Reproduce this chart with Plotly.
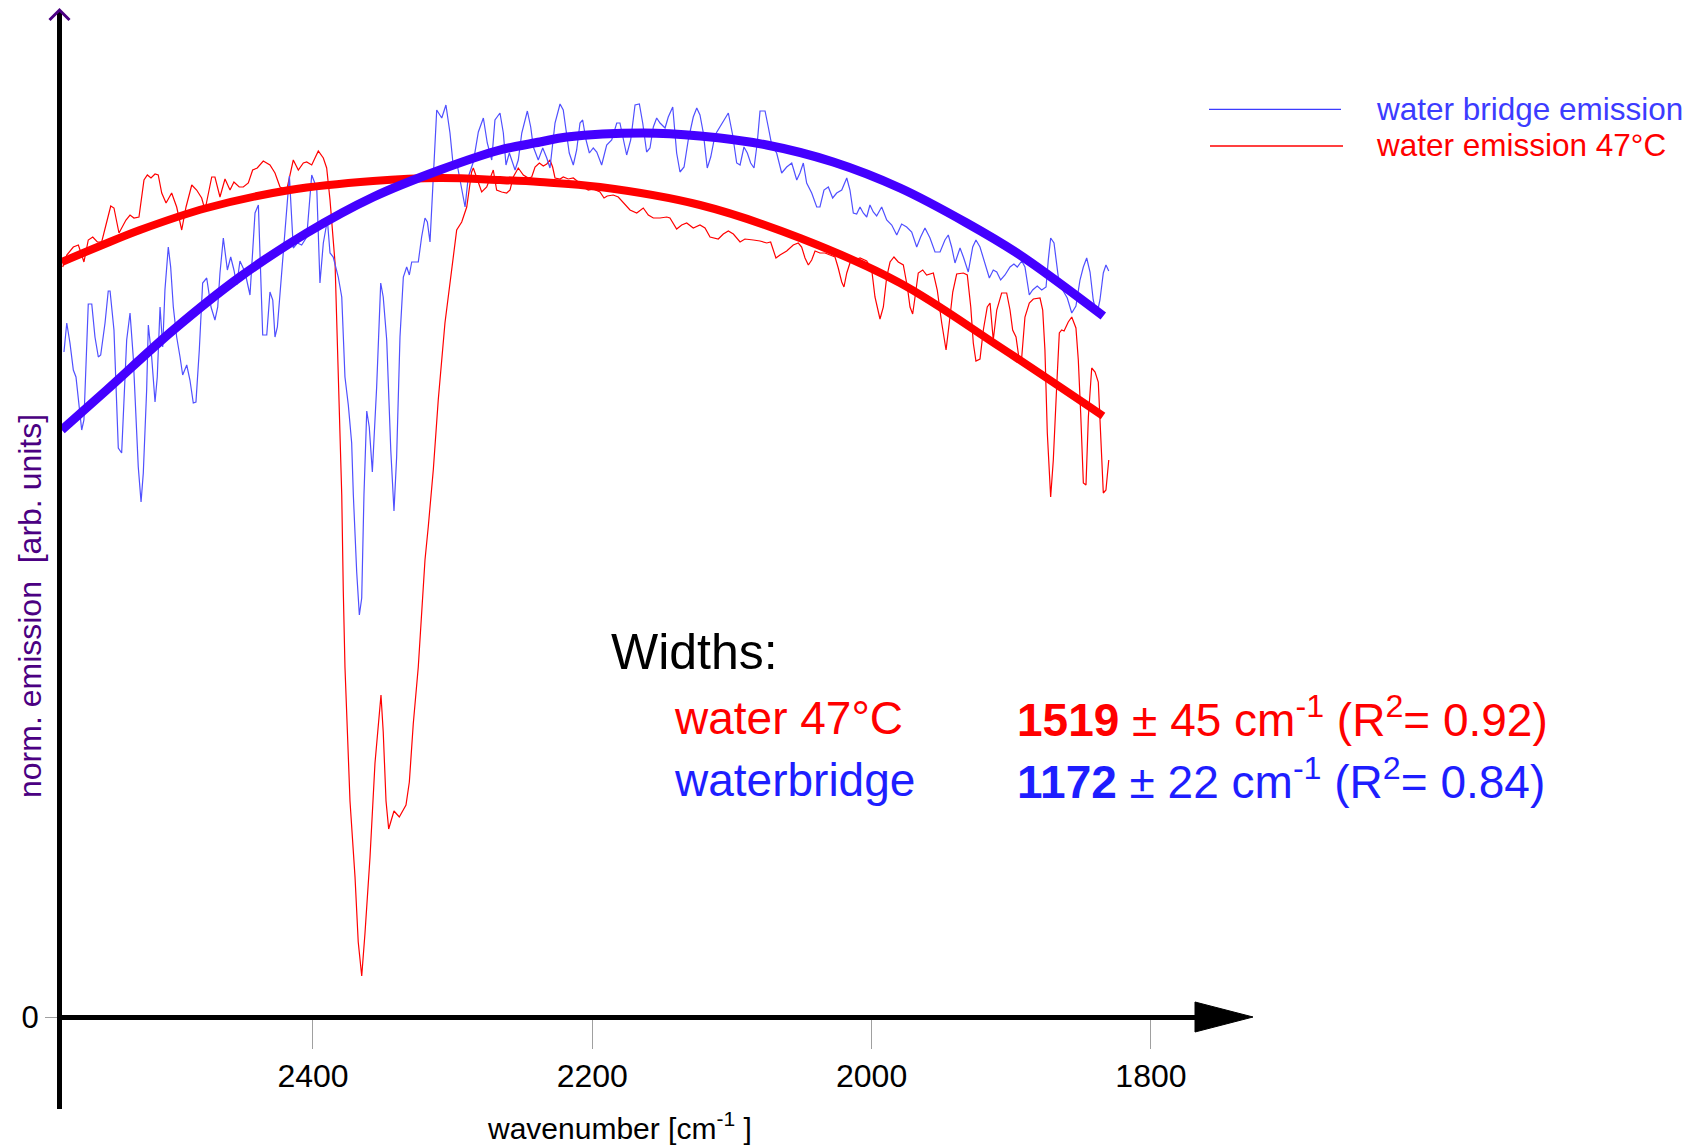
import plotly.graph_objects as go

# ---------------- data (wavenumber in cm^-1, normalised emission in arb. units) ----------------
red_x = [2579.2, 2576.3, 2571.6, 2568.0, 2565.6, 2564.0, 2560.9, 2557.7, 2554.4, 2551.3,
         2547.7, 2544.8, 2542.5, 2538.9, 2533.9, 2531.0, 2528.2, 2524.6, 2521.0, 2518.6,
         2516.0, 2513.1, 2510.8, 2508.3, 2505.2, 2501.2, 2497.6, 2494.0, 2490.9, 2486.8,
         2483.3, 2479.7, 2477.3, 2472.5, 2470.2, 2466.6, 2463.0, 2459.4, 2456.6, 2452.8,
         2449.9, 2446.3, 2443.2, 2439.9, 2435.6, 2430.8, 2427.2, 2423.6, 2418.8, 2414.1,
         2410.5, 2406.9, 2404.5, 2400.9, 2396.2, 2392.6, 2390.2, 2387.8, 2384.2, 2381.2,
         2379.4, 2378.3, 2377.1, 2373.5, 2369.9, 2367.6, 2365.1, 2362.8, 2359.2, 2355.6,
         2353.2, 2351.3, 2349.7, 2347.7, 2345.8, 2342.0, 2338.2, 2333.4, 2331.0, 2328.2,
         2324.6, 2322.2, 2319.8, 2317.4, 2313.8, 2310.3, 2305.5, 2297.1, 2293.5, 2289.9,
         2286.4, 2285.2, 2279.2, 2275.6, 2270.9, 2268.5, 2264.9, 2261.3, 2258.9, 2256.6,
         2253.0, 2249.4, 2245.8, 2243.4, 2241.0, 2237.9, 2235.1, 2232.6, 2230.3, 2228.4,
         2226.7, 2223.1, 2220.8, 2217.2, 2213.6, 2210.0, 2206.4, 2202.9, 2199.3, 2194.5,
         2191.6, 2189.3, 2185.0, 2181.4, 2177.8, 2173.0, 2168.2, 2163.5, 2159.9, 2156.3,
         2151.5, 2146.7, 2144.4, 2139.6, 2136.0, 2132.4, 2127.7, 2122.9, 2119.3, 2115.7,
         2109.8, 2106.2, 2102.6, 2099.0, 2094.2, 2090.7, 2084.7, 2079.9, 2075.1, 2072.3,
         2068.5, 2065.6, 2060.8, 2056.1, 2052.5, 2050.1, 2047.7, 2045.3, 2042.9, 2040.5,
         2037.0, 2033.4, 2029.8, 2026.2, 2023.9, 2021.4, 2019.8, 2017.8, 2015.5, 2011.9,
         2008.3, 2003.5, 1999.9, 1997.6, 1994.0, 1991.6, 1989.2, 1986.8, 1984.0, 1980.9,
         1977.3, 1974.4, 1972.5, 1970.6, 1968.9, 1966.6, 1963.4, 1960.6, 1955.8, 1953.0,
         1949.8, 1946.7, 1944.4, 1941.9, 1939.1, 1934.3, 1931.5, 1929.0, 1927.2, 1925.3,
         1922.4, 1920.0, 1917.2, 1915.2, 1912.9, 1910.4, 1906.9, 1903.3, 1900.9, 1899.0,
         1896.6, 1894.3, 1892.5, 1890.2, 1887.1, 1884.2, 1879.4, 1877.5, 1875.9, 1874.2,
         1871.8, 1869.9, 1867.5, 1865.6, 1863.9, 1862.2, 1859.2, 1856.7, 1853.7, 1852.0,
         1850.3, 1848.4, 1846.5, 1844.8, 1842.4, 1840.0, 1837.7, 1836.0, 1834.1, 1832.2, 1830.2]
red_y = [0.750, 0.762, 0.770, 0.772, 0.762, 0.755, 0.777, 0.780, 0.775, 0.775,
         0.795, 0.811, 0.809, 0.784, 0.797, 0.802, 0.799, 0.800, 0.837, 0.842,
         0.839, 0.843, 0.842, 0.824, 0.814, 0.824, 0.810, 0.787, 0.810, 0.832,
         0.827, 0.819, 0.807, 0.840, 0.840, 0.820, 0.838, 0.827, 0.835, 0.830,
         0.830, 0.834, 0.847, 0.849, 0.856, 0.852, 0.844, 0.830, 0.827, 0.857,
         0.847, 0.854, 0.855, 0.852, 0.866, 0.859, 0.849, 0.817, 0.754, 0.617,
         0.522, 0.426, 0.350, 0.216, 0.140, 0.075, 0.041, 0.083, 0.159, 0.254,
         0.296, 0.322, 0.285, 0.216, 0.188, 0.206, 0.200, 0.212, 0.235, 0.293,
         0.350, 0.407, 0.457, 0.491, 0.548, 0.617, 0.694, 0.787, 0.795, 0.810,
         0.845, 0.849, 0.825, 0.830, 0.847, 0.827, 0.825, 0.824, 0.827, 0.840,
         0.849, 0.842, 0.839, 0.840, 0.850, 0.854, 0.851, 0.853, 0.857, 0.850,
         0.839, 0.838, 0.840, 0.838, 0.839, 0.835, 0.830, 0.827, 0.828, 0.825,
         0.819, 0.821, 0.822, 0.820, 0.814, 0.807, 0.804, 0.809, 0.802, 0.799,
         0.799, 0.800, 0.799, 0.788, 0.792, 0.794, 0.789, 0.792, 0.789, 0.780,
         0.778, 0.783, 0.786, 0.783, 0.775, 0.778, 0.777, 0.776, 0.774, 0.775,
         0.759, 0.762, 0.766, 0.772, 0.774, 0.770, 0.759, 0.752, 0.757, 0.766,
         0.764, 0.764, 0.762, 0.760, 0.749, 0.735, 0.730, 0.744, 0.754, 0.757,
         0.759, 0.756, 0.747, 0.720, 0.698, 0.710, 0.740, 0.755, 0.760, 0.755,
         0.752, 0.730, 0.710, 0.703, 0.720, 0.744, 0.747, 0.742, 0.744, 0.727,
         0.694, 0.667, 0.694, 0.725, 0.743, 0.744, 0.742, 0.710, 0.674, 0.656,
         0.658, 0.687, 0.710, 0.714, 0.677, 0.707, 0.724, 0.724, 0.707, 0.687,
         0.680, 0.657, 0.660, 0.700, 0.714, 0.718, 0.719, 0.707, 0.667, 0.584,
         0.520, 0.557, 0.630, 0.684, 0.687, 0.686, 0.695, 0.700, 0.689, 0.657,
         0.604, 0.534, 0.532, 0.600, 0.649, 0.645, 0.635, 0.584, 0.524, 0.527, 0.557]

blue_x = [2578.3, 2576.3, 2574.0, 2571.6, 2569.7, 2568.0, 2565.6, 2564.0, 2560.9, 2558.4,
          2556.1, 2553.7, 2552.0, 2548.9, 2546.6, 2545.3, 2542.5, 2539.4, 2537.0, 2533.4,
          2531.0, 2528.7, 2525.1, 2523.1, 2521.5, 2519.1, 2517.9, 2515.5, 2513.1, 2511.5,
          2509.5, 2507.6, 2506.0, 2503.6, 2501.9, 2500.0, 2497.6, 2495.2, 2493.3, 2490.4,
          2488.1, 2485.7, 2483.8, 2481.4, 2479.0, 2476.1, 2473.0, 2470.2, 2468.2, 2466.6,
          2464.2, 2461.3, 2458.9, 2456.6, 2454.6, 2452.3, 2448.7, 2445.1, 2441.5, 2439.1,
          2436.0, 2433.1, 2430.8, 2428.8, 2427.2, 2425.5, 2422.4, 2420.0, 2416.9, 2414.1,
          2411.2, 2408.1, 2404.5, 2400.9, 2397.3, 2395.0, 2392.6, 2389.7, 2387.8, 2385.5,
          2381.9, 2379.4, 2377.1, 2374.7, 2372.3, 2371.1, 2368.7, 2366.8, 2365.1, 2363.5,
          2361.5, 2359.7, 2357.5, 2354.4, 2351.5, 2349.7, 2347.2, 2344.3, 2342.0, 2340.1,
          2337.7, 2335.3, 2332.9, 2331.0, 2329.3, 2324.6, 2322.2, 2319.8, 2318.1, 2316.2,
          2313.8, 2311.4, 2307.8, 2304.8, 2301.9, 2299.5, 2297.1, 2294.7, 2291.1, 2288.8,
          2285.2, 2281.6, 2278.0, 2275.2, 2272.0, 2269.7, 2266.1, 2263.7, 2261.8, 2259.4,
          2257.0, 2255.3, 2253.0, 2250.5, 2246.5, 2244.1, 2242.2, 2238.7, 2235.5, 2232.6,
          2230.3, 2226.7, 2223.1, 2220.8, 2218.8, 2216.5, 2213.6, 2211.2, 2208.8, 2206.9,
          2204.5, 2202.1, 2199.3, 2196.8, 2193.3, 2189.7, 2186.1, 2182.5, 2180.2, 2177.8,
          2175.4, 2172.5, 2169.4, 2166.3, 2163.9, 2161.1, 2158.7, 2156.3, 2153.9, 2151.5,
          2147.9, 2145.6, 2142.4, 2139.6, 2137.2, 2134.3, 2131.3, 2127.7, 2125.2, 2122.9,
          2120.5, 2117.7, 2115.2, 2112.1, 2108.6, 2105.7, 2102.6, 2099.5, 2096.6, 2094.2,
          2091.4, 2089.0, 2086.6, 2084.2, 2081.9, 2079.9, 2076.3, 2074.0, 2071.5, 2068.0,
          2064.4, 2060.8, 2057.2, 2053.6, 2051.3, 2048.9, 2046.5, 2042.9, 2039.3, 2037.0,
          2034.1, 2031.0, 2027.9, 2025.0, 2021.4, 2017.8, 2015.5, 2013.1, 2010.7, 2008.3,
          2006.0, 2003.5, 2001.2, 1998.8, 1996.4, 1992.8, 1989.2, 1985.6, 1982.0, 1978.5,
          1974.9, 1971.3, 1967.7, 1964.9, 1961.8, 1958.2, 1954.6, 1951.0, 1947.5, 1945.1,
          1942.7, 1940.3, 1936.7, 1934.3, 1930.8, 1927.6, 1925.3, 1922.4, 1918.8, 1915.7,
          1912.9, 1910.4, 1907.6, 1904.5, 1900.9, 1898.1, 1895.7, 1892.5, 1890.2, 1889.0,
          1887.1, 1884.7, 1881.4, 1878.2, 1875.1, 1873.5, 1871.8, 1869.4, 1867.5, 1865.6,
          1863.2, 1859.9, 1856.7, 1853.7, 1850.8, 1848.4, 1846.0, 1843.6, 1841.3, 1838.8,
          1836.5, 1834.1, 1832.2, 1830.2]
blue_y = [0.665, 0.694, 0.674, 0.647, 0.640, 0.617, 0.587, 0.597, 0.713, 0.713,
          0.680, 0.660, 0.662, 0.694, 0.726, 0.726, 0.687, 0.569, 0.564, 0.677,
          0.704, 0.660, 0.550, 0.515, 0.544, 0.627, 0.692, 0.660, 0.615, 0.640,
          0.710, 0.670, 0.727, 0.770, 0.750, 0.710, 0.680, 0.660, 0.642, 0.652,
          0.637, 0.614, 0.615, 0.667, 0.734, 0.739, 0.710, 0.697, 0.710, 0.744,
          0.779, 0.747, 0.760, 0.747, 0.732, 0.756, 0.745, 0.722, 0.804, 0.812,
          0.682, 0.682, 0.725, 0.717, 0.680, 0.690, 0.742, 0.784, 0.841, 0.769,
          0.774, 0.772, 0.780, 0.842, 0.829, 0.734, 0.774, 0.797, 0.764, 0.760,
          0.740, 0.720, 0.640, 0.612, 0.574, 0.522, 0.445, 0.402, 0.419, 0.522,
          0.606, 0.590, 0.545, 0.630, 0.734, 0.720, 0.677, 0.567, 0.506, 0.560,
          0.680, 0.740, 0.750, 0.742, 0.755, 0.755, 0.780, 0.799, 0.795, 0.775,
          0.844, 0.907, 0.899, 0.912, 0.884, 0.850, 0.855, 0.837, 0.810, 0.840,
          0.855, 0.885, 0.899, 0.874, 0.857, 0.897, 0.904, 0.884, 0.852, 0.864,
          0.855, 0.847, 0.857, 0.884, 0.906, 0.890, 0.870, 0.857, 0.869, 0.859,
          0.849, 0.894, 0.913, 0.907, 0.887, 0.864, 0.852, 0.867, 0.894, 0.897,
          0.877, 0.864, 0.869, 0.865, 0.852, 0.872, 0.877, 0.894, 0.894, 0.879,
          0.862, 0.877, 0.912, 0.913, 0.894, 0.865, 0.869, 0.890, 0.899, 0.894,
          0.889, 0.900, 0.910, 0.864, 0.845, 0.850, 0.877, 0.900, 0.909, 0.902,
          0.884, 0.849, 0.860, 0.882, 0.890, 0.897, 0.904, 0.882, 0.854, 0.852,
          0.870, 0.864, 0.854, 0.849, 0.874, 0.906, 0.906, 0.890, 0.872, 0.864,
          0.844, 0.850, 0.854, 0.837, 0.844, 0.854, 0.834, 0.824, 0.810, 0.810,
          0.827, 0.830, 0.819, 0.824, 0.827, 0.839, 0.827, 0.804, 0.803, 0.810,
          0.804, 0.800, 0.812, 0.805, 0.801, 0.810, 0.797, 0.792, 0.782, 0.793,
          0.790, 0.785, 0.770, 0.780, 0.789, 0.779, 0.765, 0.765, 0.777, 0.782,
          0.770, 0.754, 0.769, 0.760, 0.745, 0.770, 0.777, 0.770, 0.752, 0.739,
          0.747, 0.745, 0.737, 0.742, 0.750, 0.753, 0.750, 0.756, 0.750, 0.740,
          0.722, 0.727, 0.731, 0.727, 0.730, 0.757, 0.779, 0.774, 0.750, 0.732,
          0.727, 0.719, 0.704, 0.711, 0.737, 0.750, 0.759, 0.745, 0.717, 0.702,
          0.717, 0.744, 0.752, 0.746]

# fitted curves
red_fit_x = [2579.9, 2552.5, 2523.9, 2476.1, 2416.5, 2357.0, 2309.1, 2266.1, 2237.5,
             2194.5, 2122.9, 2051.3, 1979.7, 1908.1, 1834.3]
red_fit_y = [0.755, 0.771, 0.787, 0.809, 0.827, 0.836, 0.839, 0.837, 0.835,
             0.830, 0.812, 0.779, 0.734, 0.670, 0.601]
blue_fit_x = [2579.9, 2547.7, 2500.0, 2452.3, 2404.5, 2356.8, 2309.1, 2266.1, 2237.5,
              2218.3, 2163.5, 2122.9, 2075.1, 2027.5, 1979.7, 1931.9, 1893.8, 1834.1]
blue_fit_y = [0.587, 0.627, 0.687, 0.740, 0.784, 0.820, 0.847, 0.867, 0.875,
              0.880, 0.884, 0.881, 0.872, 0.855, 0.829, 0.794, 0.762, 0.701]

x_tick_vals = [2400, 2200, 2000, 1800]
x_tick_text = ["2400", "2200", "2000", "1800"]
y_tick_vals = [0]
y_tick_text = ["0"]

# ---------------- layout geometry ----------------
W, H = 1697, 1148
L, R, T, B = 62, 1196, 12, 1109
FONT = "Liberation Sans, Arial, Helvetica, sans-serif"

def px(X):
    return (X - L) / (R - L)

def py(Y):
    return (B - Y) / (B - T)

RED = "#ff0000"
BLUE_THIN = "#5050ff"
BLUE_FIT = "#4400ff"
BLUE_TXT = "#1e1eff"
BLUE_LEG = "#3c3cff"
PURPLE = "#4b0082"

fig = go.Figure()
fig.add_trace(go.Scatter(x=red_x, y=red_y, mode="lines", name="water emission 47°C",
                         line=dict(color=RED, width=1.2), showlegend=False))
fig.add_trace(go.Scatter(x=blue_x, y=blue_y, mode="lines", name="water bridge emission",
                         line=dict(color=BLUE_THIN, width=1.2), showlegend=False))
fig.add_trace(go.Scatter(x=red_fit_x, y=red_fit_y, mode="lines", name="fit water 47°C",
                         line=dict(color=RED, width=8, shape="spline", smoothing=1.0),
                         showlegend=False))
fig.add_trace(go.Scatter(x=blue_fit_x, y=blue_fit_y, mode="lines", name="fit waterbridge",
                         line=dict(color=BLUE_FIT, width=9, shape="spline", smoothing=1.0),
                         showlegend=False))

fig.update_layout(
    width=W, height=H,
    margin=dict(l=L, r=W - R, t=T, b=H - B, pad=0),
    paper_bgcolor="white", plot_bgcolor="white",
    font=dict(family=FONT, color="black"),
    showlegend=False,
    xaxis=dict(range=[2579.71, 1767.73], anchor="free", position=py(1017),
               showline=True, linecolor="black", linewidth=5,
               ticks="outside", ticklen=29, tickwidth=1, tickcolor="#a0a0a0",
               tickvals=x_tick_vals, ticktext=x_tick_text,
               tickfont=dict(size=32, color="black", family=FONT),
               showgrid=False, zeroline=False),
    yaxis=dict(range=[-0.092, 1.005], showline=True, linecolor="black", linewidth=5,
               ticks="outside", ticklen=12, tickwidth=1, tickcolor="#a0a0a0",
               tickvals=y_tick_vals, ticktext=y_tick_text,
               tickfont=dict(size=31, color="black", family=FONT),
               showgrid=False, zeroline=False),
)

shapes = [
    # x-axis arrow head
    dict(type="path", xref="paper", yref="paper",
         path=f"M {px(1195)},{py(1002)} L {px(1253)},{py(1017)} L {px(1195)},{py(1032)} Z",
         fillcolor="black", line=dict(color="black", width=1)),
    # y-axis open arrow head
    dict(type="path", xref="paper", yref="paper",
         path=f"M {px(49.5)},{py(20)} L {px(59.5)},{py(10)} L {px(69.5)},{py(20)}",
         line=dict(color=PURPLE, width=3)),
    # legend samples
    dict(type="line", xref="paper", yref="paper", x0=px(1209), x1=px(1341),
         y0=py(109.3), y1=py(109.3), line=dict(color=BLUE_LEG, width=1.3)),
    dict(type="line", xref="paper", yref="paper", x0=px(1210), x1=px(1343),
         y0=py(146), y1=py(146), line=dict(color=RED, width=1.3)),
]
fig.update_layout(shapes=shapes)

def ann(text, X, Y, size, color, xanchor="left", angle=0):
    return dict(text=text, x=px(X), y=py(Y), xref="paper", yref="paper",
                showarrow=False, xanchor=xanchor, yanchor="middle", textangle=angle,
                font=dict(family=FONT, size=size, color=color))

annotations = [
    ann("norm. emission&nbsp; [arb. units]", 30, 606, 32, PURPLE, xanchor="center", angle=-90),
    ann("wavenumber [cm<sup>-1</sup> ]", 619, 1126, 30, "black", xanchor="center"),
    ann("Widths:", 609, 652, 50, "black"),
    ann("water 47°C", 672, 718, 46, RED),
    ann("waterbridge", 672, 780, 46, BLUE_TXT),
    ann("<b>1519</b> ± 45 cm<sup>-1</sup> (R<sup>2</sup>= 0.92)", 1015, 717, 46, RED),
    ann("<b>1172</b> ± 22 cm<sup>-1</sup> (R<sup>2</sup>= 0.84)", 1015, 779, 46, BLUE_TXT),
    ann("water bridge emission", 1374, 109, 31.5, BLUE_LEG),
    ann("water emission 47°C", 1374, 145, 31.5, RED),
]
fig.update_layout(annotations=annotations)

fig.write_html("out.html")
